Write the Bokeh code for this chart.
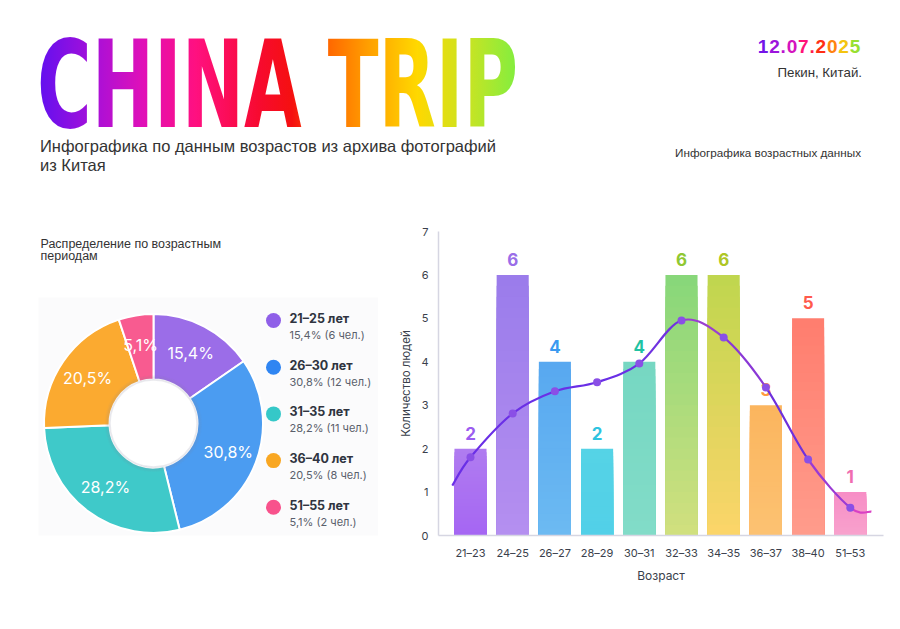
import numpy as np
from bokeh.plotting import figure
from bokeh.models import Div, Range1d, FixedTicker
from bokeh.layouts import column, row
from bokeh.embed import file_html
from bokeh.resources import INLINE
from bokeh.core.properties import value

# ---------------- data ----------------
pie_groups = ["21–25 лет", "26–30 лет", "31–35 лет", "36–40 лет", "51–55 лет"]
pie_people = [6, 12, 11, 8, 2]
pie_pct = ["15,4%", "30,8%", "28,2%", "20,5%", "5,1%"]
pie_colors = ["#9b6de8", "#4b9cf1", "#3fc9c9", "#fbaa30", "#f85b90"]
legend_colors = ["#8f5fe8", "#2f85f2", "#35c8c8", "#f9a722", "#f8528c"]

age_bins = ["21–23", "24–25", "26–27", "28–29", "30–31",
            "32–33", "34–35", "36–37", "38–40", "51–53"]
counts = [2, 6, 4, 2, 4, 6, 6, 3, 5, 1]
trend = [1.80, 2.81, 3.32, 3.53, 3.96, 4.95, 4.56, 3.41, 1.75, 0.64]
trend_start = (-0.43, 1.15)
trend_end = (9.50, 0.55)
y_ticks = [0, 1, 2, 3, 4, 5, 6, 7]

bar_top_colors = ["#b07cf0", "#9a7ceb", "#58a8f0", "#55d3e6", "#76d7c2",
                  "#86d77a", "#bfd64e", "#fbb55e", "#ff7d6e", "#f78ec6"]
bar_bottom_colors = ["#a566f3", "#b58ff0", "#6cbaf2", "#52d0e8", "#82dcc8",
                     "#d2e07e", "#fcd56a", "#fcc272", "#ff9c8c", "#f8a2cd"]
label_colors = ["#9b5cf0", "#9a6ee8", "#3b9af0", "#2ec3e0", "#1fc2a2",
                "#8fc832", "#aec624", "#ff9a40", "#ff5a4c", "#f06cb0"]
seg_colors = ["#6a2fe6", "#6a2fe6", "#6a2fe6", "#6a2fe6", "#6a2fe6",
              "#7032e0", "#9a3fd0", "#8a38d6", "#6f30dc", "#9a3ad4", "#d940c4"]

FONT = "Inter"


def mix(c1, c2, t):
    a = [int(c1[i:i + 2], 16) for i in (1, 3, 5)]
    b = [int(c2[i:i + 2], 16) for i in (1, 3, 5)]
    return "#%02x%02x%02x" % tuple(int(round(a[j] + (b[j] - a[j]) * t)) for j in range(3))


# ---------------- header ----------------
date_chars = "12.07.2025"
date_colors = ["#7414e8", "#9c14dc", "#bb14cf", "#d414be", "#ff1478",
               "#ff1c50", "#ff2e14", "#ff8210", "#f4c410", "#98e030"]
date_html = "".join(f'<span style="color:{c}">{ch}</span>' for ch, c in zip(date_chars, date_colors))

grad = ("linear-gradient(90deg, #6010f0 0%, #a810d8 12%, #e010b8 22%, #ff1080 33%, "
        "#f70a30 46%, #f51010 53%, #ff6400 60%, #ffa000 69%, #ffd800 79%, #c6e424 90%, #80ee40 100%)")

header_html = f"""
<div style="position:relative;width:900px;height:208px;font-family:'Liberation Sans',Arial,sans-serif;">
  <div style="position:absolute;left:37px;top:37px;font-family:'DejaVu Sans';font-weight:bold;
       font-size:100px;line-height:0.8;white-space:nowrap;transform-origin:0 0;transform:scale(0.745,1.22);
       background:{grad};-webkit-background-clip:text;background-clip:text;color:transparent;
       -webkit-text-fill-color:transparent;">CHINA TRIP</div>
  <div style="position:absolute;left:40px;top:137px;font-size:16.5px;line-height:19px;color:#333;white-space:nowrap;">
    Инфографика по данным возрастов из архива фотографий<br>из Китая</div>
  <div style="position:absolute;right:39px;top:37px;font-size:19px;line-height:1;font-weight:bold;
       letter-spacing:0.8px;white-space:nowrap;">{date_html}</div>
  <div style="position:absolute;right:38px;top:66px;font-size:13.3px;line-height:1;color:#333;white-space:nowrap;">Пекин, Китай.</div>
  <div style="position:absolute;right:39px;top:147px;font-size:11.7px;line-height:1;color:#333;white-space:nowrap;">Инфографика возрастных данных</div>
</div>
"""
header = Div(text=header_html, width=900, height=208, margin=(0, 0, 0, 0))

FIG_H = 418
B_TOP, B_BOT = 23, 91          # shared borders -> frames span page y 231..535
FRAME_H = FIG_H - B_TOP - B_BOT  # 304

# ---------------- donut ----------------
PW = 378
pf = figure(width=PW, height=FIG_H, x_range=Range1d(0, PW), y_range=Range1d(0, FRAME_H),
            x_axis_location=None, y_axis_location=None,
            min_border_left=0, min_border_right=0, min_border_top=B_TOP, min_border_bottom=B_BOT,
            output_backend="svg", toolbar_location=None, outline_line_color=None)
pf.grid.visible = False
pf.margin = (0, 0, 0, 0)

# subtle panel
pf.quad(left=38, right=PW, bottom=-6, top=238, fill_color="#fbfbfc", line_color=None)

cx, cy = 153, 112
r_in, r_out = 44, 109.5
tot = float(sum(pie_people))
cum = np.concatenate([[0], np.cumsum(pie_people)]) / tot
start = np.pi / 2 - 2 * np.pi * cum[1:]
end = np.pi / 2 - 2 * np.pi * cum[:-1]
pf.annular_wedge(x=cx, y=cy, inner_radius=r_in, outer_radius=r_out,
                 start_angle=list(start), end_angle=list(end),
                 fill_color=pie_colors, line_color="white", line_width=2)
# soft hole shadow
for rr, a in [(47, 0.05), (46, 0.06), (45, 0.08)]:
    pf.circle(x=cx, y=cy, radius=rr, fill_color=None, line_color="#8a8aa0", line_alpha=a, line_width=3)
pf.circle(x=cx, y=cy, radius=43.5, fill_color="white", line_color=None)
pf.circle(x=cx, y=cy, radius=43.5, fill_color=None, line_color="#b0b0c0", line_alpha=0.25, line_width=1.5)

mid = (cum[:-1] + cum[1:]) / 2
ang = np.pi / 2 - 2 * np.pi * mid
r_lab = 80
pf.text(x=list(cx + r_lab * np.cos(ang)), y=list(cy + r_lab * np.sin(ang)), text=pie_pct,
        text_color="white", text_font=value(FONT), text_font_size="16px",
        text_align="center", text_baseline="middle")

# legend
ly0, lstep = 215, 46.7
ly = [ly0 - i * lstep for i in range(len(pie_groups))]
pf.circle(x=273, y=ly, radius=7.5, fill_color=legend_colors, line_color=None)
pf.text(x=289, y=[v + 2 for v in ly], text=pie_groups, text_color="#2f3440",
        text_font=value(FONT), text_font_size="12.5px", text_font_style="bold",
        text_align="left", text_baseline="middle")
subs = [f"{p} ({n} чел.)" for p, n in zip(pie_pct, pie_people)]
pf.text(x=289, y=[v - 14.5 for v in ly], text=subs, text_color="#5a5f6b",
        text_font=value(FONT), text_font_size="11px",
        text_align="left", text_baseline="middle")

# caption
pf.text(x=40, y=[292, 280], text=["Распределение по возрастным", "периодам"],
        text_color="#333333", text_font=value("Liberation Sans"), text_font_size="12.5px",
        text_align="left", text_baseline="alphabetic")

# ---------------- bar chart ----------------
bf = figure(width=522, height=FIG_H, x_range=Range1d(-0.758, 9.787), y_range=Range1d(0, 7),
            min_border_left=60, min_border_right=17, min_border_top=B_TOP, min_border_bottom=B_BOT,
            output_backend="svg", toolbar_location=None, outline_line_color=None)
bf.margin = (0, 0, 0, 0)
bf.grid.visible = False

idx = list(range(len(age_bins)))
N = 24
xs, tops, cols = [], [], []
for k in range(N, 0, -1):
    t = (k - 0.5) / N
    for i in idx:
        xs.append(i)
        tops.append(counts[i] * k / N)
        cols.append(mix(bar_bottom_colors[i], bar_top_colors[i], t))
bf.vbar(x=xs, top=tops, bottom=0, width=0.76, fill_color=cols, line_color=None)

bf.text(x=idx, y=counts, text=[str(c) for c in counts], text_color=label_colors,
        text_font=value(FONT), text_font_size="17px", text_font_style="bold",
        text_align="center", text_baseline="bottom", y_offset=-9)

# smooth trend curve (Catmull-Rom through the read points, drawn as Bezier segments)
px = [trend_start[0]] + idx + [trend_end[0]]
py = [trend_start[1]] + trend + [trend_end[1]]
P = np.array(list(zip(px, py)), dtype=float)
Pe = np.vstack([P[0], P, P[-1]])
x0, y0, x1, y1, c0x, c0y, c1x, c1y = ([] for _ in range(8))
for j in range(len(P) - 1):
    p0, p1, p2, p3 = Pe[j], Pe[j + 1], Pe[j + 2], Pe[j + 3]
    c1 = p1 + (p2 - p0) / 6.0
    c2 = p2 - (p3 - p1) / 6.0
    x0.append(p1[0]); y0.append(p1[1]); x1.append(p2[0]); y1.append(p2[1])
    c0x.append(c1[0]); c0y.append(c1[1]); c1x.append(c2[0]); c1y.append(c2[1])
bf.bezier(x0=x0, y0=y0, x1=x1, y1=y1, cx0=c0x, cy0=c0y, cx1=c1x, cy1=c1y,
          line_color=seg_colors, line_width=2.2)
bf.scatter(x=idx, y=trend, size=8, fill_color="#8a4fe6", line_color=None)

bf.xaxis.ticker = FixedTicker(ticks=idx)
bf.xaxis.major_label_overrides = {i: lab for i, lab in zip(idx, age_bins)}
bf.yaxis.ticker = FixedTicker(ticks=y_ticks)
for ax in (bf.xaxis, bf.yaxis):
    ax.axis_line_color = "#d6d6e2"
    ax.axis_line_width = 1.5
    ax.major_tick_line_color = None
    ax.minor_tick_line_color = None
    ax.major_tick_out = 0
    ax.major_tick_in = 0
    ax.minor_tick_out = 0
    ax.major_label_text_font = FONT
    ax.major_label_text_font_size = "11px"
    ax.major_label_text_color = "#3a3f4c"
    ax.axis_label_text_font = FONT
    ax.axis_label_text_font_style = "normal"
    ax.axis_label_text_color = "#3a3f4c"
bf.xaxis.major_label_standoff = 10
bf.yaxis.major_label_standoff = 10
bf.xaxis.axis_label = "Возраст"
bf.xaxis.axis_label_text_font_size = "12px"
bf.xaxis.axis_label_standoff = 5
bf.yaxis.axis_label = "Количество людей"
bf.yaxis.axis_label_text_font_size = "11.5px"
bf.yaxis.axis_label_standoff = 5

layout = column(header, row(pf, bf, spacing=0), spacing=0)

open("out.html", "w").write(file_html(layout, INLINE, "China trip"))
